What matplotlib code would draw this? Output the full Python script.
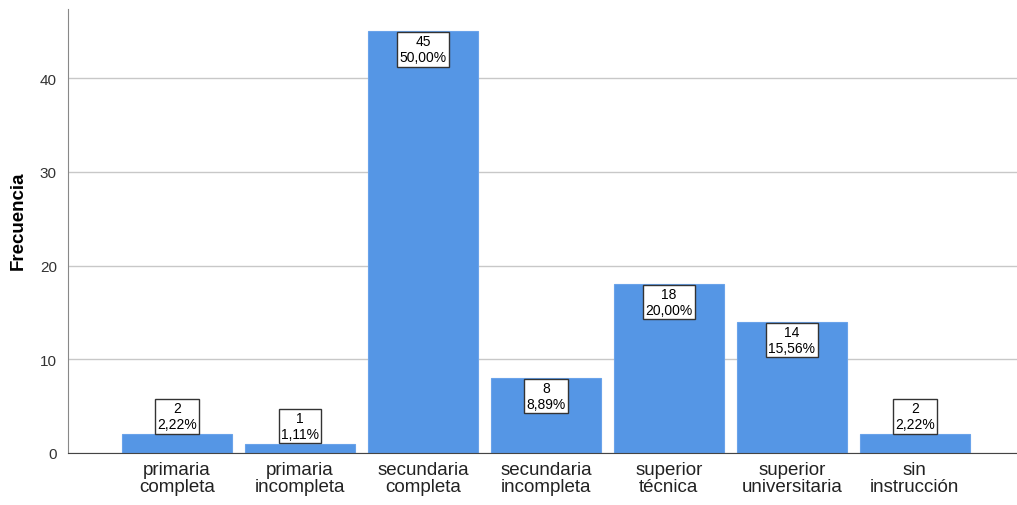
import matplotlib.pyplot as plt

plt.rcParams['font.family'] = ['Liberation Sans', 'DejaVu Sans']

# Data
categorias = ['primaria\ncompleta', 'primaria\nincompleta', 'secundaria\ncompleta',
              'secundaria\nincompleta', 'superior\ntécnica', 'superior\nuniversitaria',
              'sin\ninstrucción']
frecuencia = [2, 1, 45, 8, 18, 14, 2]
porcentaje = ['2,22%', '1,11%', '50,00%', '8,89%', '20,00%', '15,56%', '2,22%']

fig = plt.figure(figsize=(10.17, 5.06), dpi=100)
ax = fig.add_axes([68 / 1017, 52 / 506, 949 / 1017, 444 / 506])

x = list(range(len(categorias)))
bars = ax.bar(x, frecuencia, width=0.89, color='#5596e5', edgecolor='#6aa3ea',
              linewidth=0.8, zorder=2)

ax.set_xlim(-0.886, 6.83)
ax.set_ylim(0, 47.4)
ax.set_yticks([0, 10, 20, 30, 40])
ax.yaxis.grid(True, color='#c8c8c8', linewidth=1, zorder=0)
ax.set_axisbelow(True)

for s in ['top', 'right']:
    ax.spines[s].set_visible(False)
ax.spines['left'].set_color('#888888')
ax.spines['bottom'].set_color('#444444')

ax.set_xticks(x)
ax.set_xticklabels(categorias, fontsize=13.5, color='#222222', linespacing=1.0)
ax.tick_params(axis='x', length=0, pad=6)
ax.tick_params(axis='y', length=0, labelsize=11, colors='#333333', pad=8)
ax.set_ylabel('Frecuencia', fontsize=13.5, fontweight='bold')
ax.yaxis.set_label_coords(-0.043, 0.525)

# value labels
box = dict(boxstyle='square,pad=0.15', fc='white', ec='#333333', lw=1)
for xi, f, p in zip(x, frecuencia, porcentaje):
    if f > 4:
        ax.annotate(f'{f}\n{p}', (xi, f), xytext=(0, -2), textcoords='offset points',
                    ha='center', va='top', fontsize=10, linespacing=1.2,
                    bbox=box, zorder=3)
    else:
        ax.annotate(f'{f}\n{p}', (xi, f), xytext=(0, 2), textcoords='offset points',
                    ha='center', va='bottom', fontsize=10, linespacing=1.2,
                    bbox=box, zorder=3)

fig.savefig('out.png', dpi=100)
